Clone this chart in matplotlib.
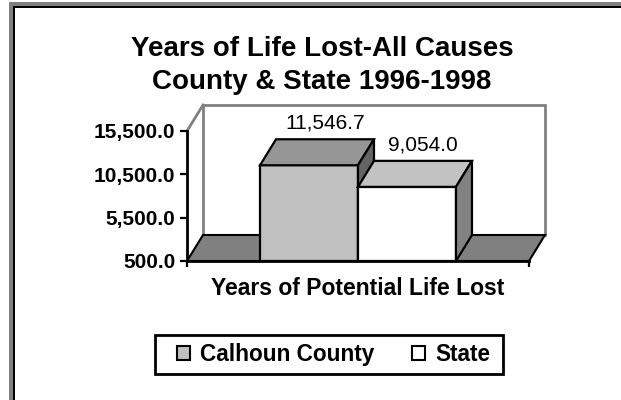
import matplotlib
matplotlib.use("Agg")
import matplotlib.pyplot as plt
from matplotlib.patches import Polygon, Rectangle
from matplotlib.lines import Line2D

# ---- data ----
title_lines = ["Years of Life Lost-All Causes", "County & State 1996-1998"]
category = "Years of Potential Life Lost"
series_names = ["Calhoun County", "State"]
series_values = [11546.7, 9054.0]
y_ticks = [500, 5500, 10500, 15500]
y_min, y_max = 500, 15500

# ---- style ----
front_colors = ["#c0c0c0", "#ffffff"]
top_colors = ["#969696", "#c2c2c2"]
side_colors = ["#646464", "#828282"]
floor_color = "#808080"
wall_edge = "#808080"
FONT = "Liberation Sans"
DEPTH_X_PX, DEPTH_Y_PX = 16, 26
BAR_W = 0.2865

W, H = 621, 400
fig = plt.figure(figsize=(W / 100, H / 100), dpi=100)
fig.patch.set_facecolor("white")
plt.rcParams["font.family"] = [FONT, "DejaVu Sans"]

# outer window frame (left & top edges only)
fig.add_artist(Rectangle((9 / W, 0), 4 / W, 1 - 2 / H, transform=fig.transFigure,
                         facecolor="#808080", edgecolor="none"))
fig.add_artist(Rectangle((9 / W, 1 - 6 / H), 1, 4 / H, transform=fig.transFigure,
                         facecolor="#808080", edgecolor="none"))
fig.add_artist(Rectangle((13 / W, 0), 2 / W, 1 - 6 / H, transform=fig.transFigure,
                         facecolor="black", edgecolor="none"))
fig.add_artist(Rectangle((13 / W, 1 - 8 / H), 1, 2 / H, transform=fig.transFigure,
                         facecolor="black", edgecolor="none"))

ax_l, ax_r, ax_b, ax_t = 187, 529, 261, 131
ax = fig.add_axes([ax_l / W, 1 - ax_b / H, (ax_r - ax_l) / W, (ax_b - ax_t) / H])
ax.set_facecolor("none")
x0, x1 = -0.5, 0.5
ax.set_xlim(x0, x1)
ax.set_ylim(y_min, y_max)

# depth offsets in data units
ddx = DEPTH_X_PX / (ax_r - ax_l) * (x1 - x0)
ddy = DEPTH_Y_PX / (ax_b - ax_t) * (y_max - y_min)

def poly(pts, fc, ec="black", lw=1.6, z=2):
    p = Polygon(pts, closed=True, facecolor=fc, edgecolor=ec, linewidth=lw,
                joinstyle="miter", clip_on=False, zorder=z)
    ax.add_patch(p)

# back wall
poly([(x0 + ddx, y_min + ddy), (x1 + ddx, y_min + ddy), (x1 + ddx, y_max + ddy),
      (x0 + ddx, y_max + ddy)], "white", ec=wall_edge, lw=2, z=1)
# left side wall top edge
ax.add_line(Line2D([x0, x0 + ddx], [y_max, y_max + ddy], color=wall_edge, lw=2,
                   clip_on=False, zorder=1))
# floor
poly([(x0, y_min), (x1, y_min), (x1 + ddx, y_min + ddy), (x0 + ddx, y_min + ddy)],
     floor_color, ec="black", lw=1.5, z=1.5)

# bars
for i, (v, name) in enumerate(zip(series_values, series_names)):
    left = -BAR_W + i * BAR_W
    right = left + BAR_W
    poly([(left, y_min), (right, y_min), (right, v), (left, v)], front_colors[i], z=2 + i)
    poly([(left, v), (right, v), (right + ddx, v + ddy), (left + ddx, v + ddy)],
         top_colors[i], z=2 + i)
    poly([(right, y_min), (right + ddx, y_min + ddy), (right + ddx, v + ddy), (right, v)],
         side_colors[i], z=2 + i)
    ax.annotate(f"{v:,.1f}", xy=((left + right) / 2 + ddx, v + ddy),
                xytext=(0, 7.5), textcoords="offset points", ha="center",
                va="baseline", fontsize=15, fontfamily=FONT, annotation_clip=False,
                zorder=10)

# axes styling
for s in ["top", "right"]:
    ax.spines[s].set_visible(False)
for s in ["left", "bottom"]:
    ax.spines[s].set_linewidth(2)
    ax.spines[s].set_color("black")
    ax.spines[s].set_zorder(6)
ax.set_yticks(y_ticks)
ax.set_yticklabels([f"{t:,.1f}" for t in y_ticks], fontsize=15, fontweight="bold",
                   fontfamily=FONT)
ax.tick_params(axis="y", direction="out", length=5, width=1.6, pad=3.5)
ax.set_xticks([x0, x1])
ax.set_xticklabels(["", ""])
ax.tick_params(axis="x", direction="out", length=4.5, width=1.6)
ax.set_xlabel(category, fontsize=16.5, fontweight="bold", fontfamily=FONT, labelpad=3.5)

# title
fig.text(322 / W, 1 - 65.5 / H, "\n".join(title_lines), ha="center", va="center",
         fontsize=20, fontweight="bold", fontfamily=FONT, linespacing=1.35)

# legend (box drawn separately to match the reference's padding)
fig.add_artist(Rectangle((155 / W, 1 - 374 / H), (503 - 155) / W, (374 - 335) / H,
                         transform=fig.transFigure, facecolor="white",
                         edgecolor="black", linewidth=2, zorder=4))
handles = [Rectangle((0, 0), 1, 1, facecolor=front_colors[i], edgecolor="black",
                     linewidth=1.5) for i in range(2)]
leg = fig.legend(handles, series_names, loc="center", bbox_to_anchor=(333.5 / W, 1 - 354.5 / H),
                 ncol=2, prop={"family": FONT, "weight": "bold", "size": 16.3},
                 frameon=False, handlelength=0.57, handleheight=0.57,
                 handletextpad=0.44, columnspacing=1.7, borderpad=0.3, borderaxespad=0)
leg.set_zorder(5)

fig.savefig("out.png", dpi=100, facecolor="white")
